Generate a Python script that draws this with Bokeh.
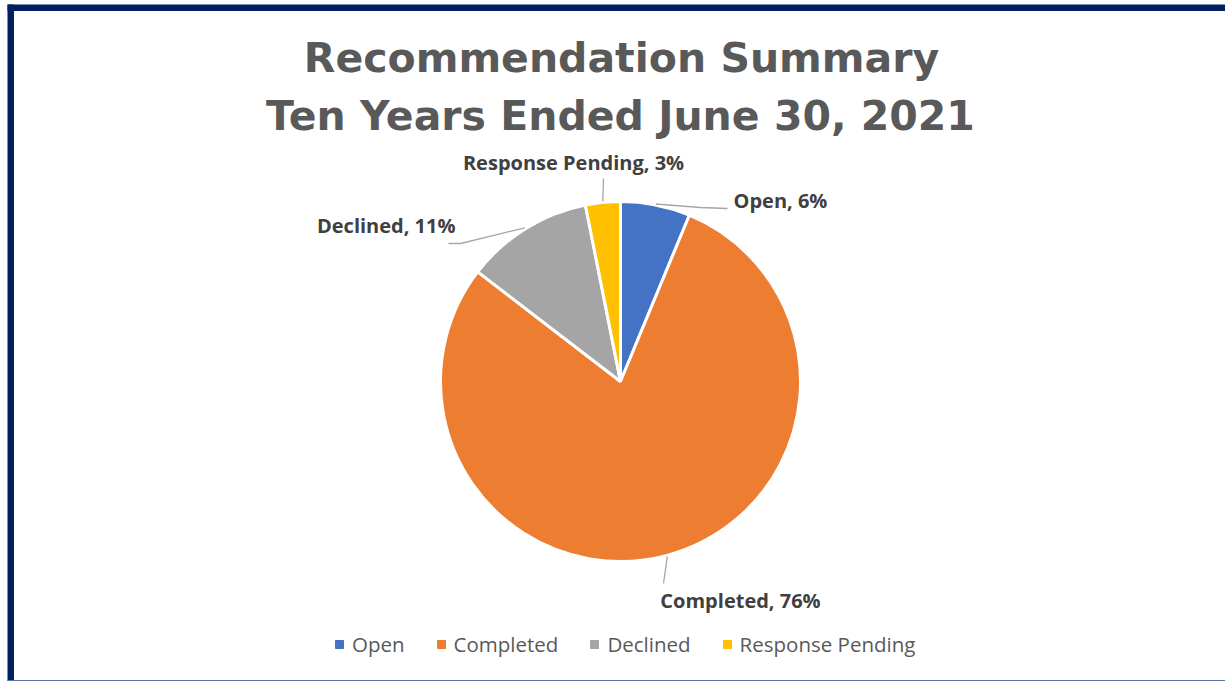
import math
from bokeh.plotting import figure
from bokeh.models import Range1d, Legend, LegendItem, ColumnDataSource
from bokeh.core.properties import value
from bokeh.embed import file_html
from bokeh.resources import INLINE

# ---- data ----
categories = ["Open", "Completed", "Declined", "Response Pending"]
percents = [6, 76, 11, 3]
colors = ["#4472C4", "#ED7D31", "#A5A5A5", "#FFC000"]
title_lines = ["Recommendation Summary", "Ten Years Ended June 30, 2021"]

W, H = 1225, 681
def Y(y):
    return H - y

p = figure(width=W, height=H, output_backend="svg", toolbar_location=None,
           x_range=Range1d(0, W), y_range=Range1d(0, H),
           x_axis_location=None, y_axis_location=None,
           min_border=0, outline_line_color=None)
p.grid.visible = False
p.background_fill_color = "white"
p.border_fill_color = "white"

# ---- frame decoration ----
p.quad(left=[7], right=[W], top=[Y(4)], bottom=[Y(10.5)], fill_color="#002060", line_color=None)
p.quad(left=[7], right=[13.5], top=[Y(4)], bottom=[Y(681)], fill_color="#002060", line_color=None)
p.quad(left=[7], right=[W], top=[Y(679.5)], bottom=[Y(681)], fill_color="#5B77A3", line_color=None)

# ---- pie ----
cx, cy, R = 620, 381, 180
total = sum(percents)
starts, ends, mids = [], [], []
cum = 0.0
for v in percents:
    a0 = math.pi / 2 - 2 * math.pi * cum / total
    cum += v
    a1 = math.pi / 2 - 2 * math.pi * cum / total
    starts.append(a0)
    ends.append(a1)
    mids.append((a0 + a1) / 2)

src = ColumnDataSource(dict(x=[cx] * len(percents), y=[Y(cy)] * len(percents),
                            start=starts, end=ends, color=colors, cat=categories))
p.wedge(x="x", y="y", radius=R, start_angle="start", end_angle="end",
        direction="clock", fill_color="color", line_color="white", line_width=3,
        source=src)

# ---- data labels with leader lines ----
labels = [f"{c}, {v}%" for c, v in zip(categories, percents)]
# layout: (text x, baseline y, align, leader path points after slice edge)
label_layout = [
    (733, 200, "left", [(700, 207), (727, 208)]),
    (740, 600, "center", [(663, 583)]),
    (455, 225, "right", [(460, 243), (448, 243)]),
    (573, 162, "center", [(603, 178)]),
]
xs_lines, ys_lines = [], []
for m, (tx, ty, al, path) in zip(mids, label_layout):
    sx = cx + (R + 1) * math.cos(m)
    sy = Y(cy) + (R + 1) * math.sin(m)
    xs_lines.append([sx] + [pt[0] for pt in path])
    ys_lines.append([sy] + [Y(pt[1]) for pt in path])
p.multi_line(xs=xs_lines, ys=ys_lines, line_color="#A6A6A6", line_width=1.3)

for lab, (tx, ty, al, path) in zip(labels, label_layout):
    p.text(x=[tx], y=[Y(ty)], text=[lab], text_align=al, text_baseline="alphabetic",
           text_font=value("Open Sans"), text_font_style="bold",
           text_font_size="20px", text_color="#404040")

# ---- title ----
p.text(x=[621, 620], y=[Y(57), Y(115)], text=title_lines, text_align="center",
       text_baseline="alphabetic", text_font=value("DejaVu Sans"),
       text_font_style="bold", text_font_size="41px", text_color="#595959")

# ---- legend ----
items = []
for c, col in zip(categories, colors):
    r = p.scatter(x=[-1000], y=[-1000], marker="square", size=8,
                  fill_color=col, line_color=col)
    items.append(LegendItem(label=c, renderers=[r]))
legend = Legend(items=items, orientation="horizontal", location=(329, 23),
                glyph_width=20, glyph_height=20, label_standoff=3, spacing=26,
                padding=0, margin=0, border_line_color=None,
                background_fill_alpha=0, label_text_font="Open Sans",
                label_text_font_size="20.5px", label_text_color="#595959",
                label_height=20)
p.add_layout(legend, "center")

open("out.html", "w").write(file_html(p, INLINE))
